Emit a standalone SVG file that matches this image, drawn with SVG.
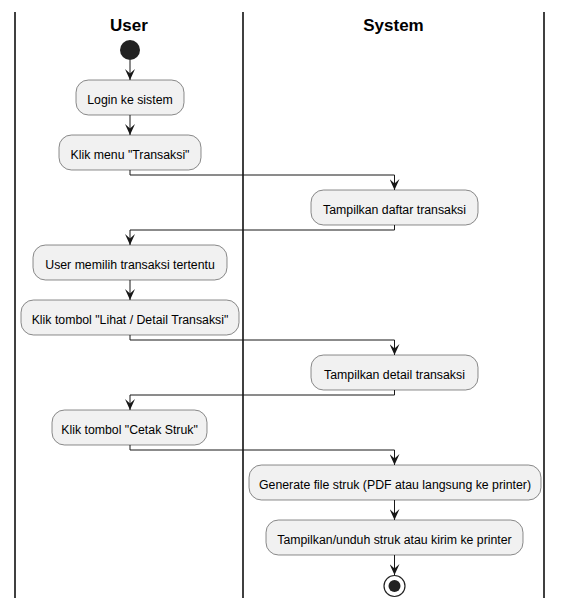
<svg xmlns="http://www.w3.org/2000/svg" width="562" height="608" viewBox="0 0 562 608">
  <style>
    .lane { stroke: #000000; stroke-width: 1.5; fill: none; }
    .title { font-family: "Liberation Sans", Arial, sans-serif; font-size: 17px; font-weight: bold; fill: #000000; text-anchor: middle; }
    .act rect { fill: #F1F1F1; stroke: #181818; stroke-width: 0.5; }
    .act text { font-family: "Liberation Sans", Arial, sans-serif; font-size: 12.3px; fill: #000000; text-anchor: middle; }
    .flow { stroke: #181818; stroke-width: 1; fill: none; marker-end: url(#arrow); }
  </style>
  <defs>
    <marker id="arrow" viewBox="0 0 11 10" refX="11" refY="5" markerWidth="11" markerHeight="10" markerUnits="userSpaceOnUse" orient="auto">
      <path d="M0,0 L11,5 L0,10 L4.5,5 Z" fill="#181818"/>
    </marker>
  </defs>
  <rect width="562" height="608" fill="#FFFFFF"/>

  <!-- swimlanes -->
  <g id="lanes">
    <line class="lane" x1="15" y1="12" x2="15" y2="598"/>
    <line class="lane" x1="243" y1="12" x2="243" y2="598"/>
    <line class="lane" x1="544" y1="12" x2="544" y2="598"/>
    <text class="title" x="129" y="31">User</text>
    <text class="title" x="393.5" y="31">System</text>
  </g>

  <!-- connectors -->
  <g id="connectors">
    <path class="flow" d="M130,60 L130,80"/>
    <path class="flow" d="M130,115 L130,135"/>
    <path class="flow" d="M130,170 L130,175 L394.5,175 L394.5,190"/>
    <path class="flow" d="M394.5,225 L394.5,230 L130,230 L130,245"/>
    <path class="flow" d="M130,280 L130,300"/>
    <path class="flow" d="M130,335 L130,340 L394.5,340 L394.5,355"/>
    <path class="flow" d="M394.5,390 L394.5,395 L130,395 L130,410"/>
    <path class="flow" d="M130,445 L130,450 L394.5,450 L394.5,465"/>
    <path class="flow" d="M394.5,500 L394.5,520"/>
    <path class="flow" d="M394.5,555 L394.5,575"/>
  </g>

  <!-- start / end -->
  <g id="start">
    <circle cx="130" cy="50" r="10" fill="#222222"/>
  </g>
  <g id="end">
    <circle cx="394.5" cy="586" r="10.5" fill="none" stroke="#222222" stroke-width="1.2"/>
    <circle cx="394.5" cy="586" r="6" fill="#222222"/>
  </g>

  <!-- activities -->
  <g id="login" class="act">
    <rect x="76" y="80" width="108" height="35" rx="12.5"/>
    <text x="130" y="103.5">Login ke sistem</text>
  </g>
  <g id="klik-menu" class="act">
    <rect x="59" y="135" width="142" height="35" rx="12.5"/>
    <text x="130" y="158.5">Klik menu "Transaksi"</text>
  </g>
  <g id="tampil-daftar" class="act">
    <rect x="311" y="190" width="167" height="35" rx="12.5"/>
    <text x="394.5" y="213.5">Tampilkan daftar transaksi</text>
  </g>
  <g id="pilih-transaksi" class="act">
    <rect x="33" y="245" width="194" height="35" rx="12.5"/>
    <text x="130" y="268.5">User memilih transaksi tertentu</text>
  </g>
  <g id="klik-detail" class="act">
    <rect x="21" y="300" width="218" height="35" rx="12.5"/>
    <text x="130" y="323.5">Klik tombol "Lihat / Detail Transaksi"</text>
  </g>
  <g id="tampil-detail" class="act">
    <rect x="311" y="355" width="167" height="35" rx="12.5"/>
    <text x="394.5" y="378.5">Tampilkan detail transaksi</text>
  </g>
  <g id="klik-cetak" class="act">
    <rect x="52" y="410" width="155" height="35" rx="12.5"/>
    <text x="129.5" y="433.5">Klik tombol "Cetak Struk"</text>
  </g>
  <g id="generate" class="act">
    <rect x="249" y="465" width="292" height="35" rx="12.5"/>
    <text x="395" y="488.5">Generate file struk (PDF atau langsung ke printer)</text>
  </g>
  <g id="tampil-unduh" class="act">
    <rect x="266" y="520" width="257" height="35" rx="12.5"/>
    <text x="394.5" y="543.5">Tampilkan/unduh struk atau kirim ke printer</text>
  </g>
</svg>
